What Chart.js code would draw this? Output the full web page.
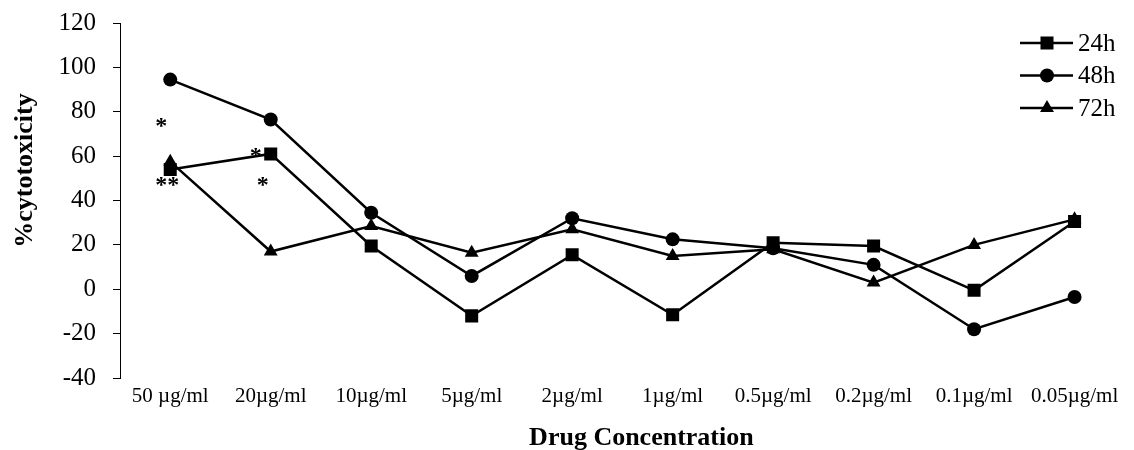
<!DOCTYPE html>
<html>
<head>
    <meta charset="UTF-8">
    <script src="https://cdn.jsdelivr.net/npm/chart.js@4.4.1/dist/chart.umd.min.js"></script>
    <title>Cytotoxicity</title>
    <style>
        html, body { margin: 0; padding: 0; background: #fff; }
        #wrap { width: 1134px; height: 450px; }
    </style>
</head>
<body>
    <div id="wrap"><canvas id="main-plot"></canvas></div>

    <script>
        // categories (x axis)
        const concentrations = ['50 µg/ml', '20µg/ml', '10µg/ml', '5µg/ml', '2µg/ml',
                                '1µg/ml', '0.5µg/ml', '0.2µg/ml', '0.1µg/ml', '0.05µg/ml'];

        // % cytotoxicity per series
        const series24h = [54, 61, 19.5, -12, 15.5, -11.5, 21, 19.5, -0.5, 30.5];
        const series48h = [94.5, 76.5, 34.5, 6, 32, 22.5, 18.5, 11, -18, -3.5];
        const series72h = [57.5, 17, 28.5, 16.5, 27, 15, 18, 3, 20, 31.5];

        const yTicks = [-40, -20, 0, 20, 40, 60, 80, 100, 120];

        const xTitle = 'Drug Concentration';
        const yTitle = '%cytotoxicity';

        // significance marks
        const starText     = ['*', '**', '*', '*'];
        const starCategory = [0, 0, 1, 1];
        const starValue    = [74.5, 48, 61, 48];

        const FONT = '"Liberation Serif", "Times New Roman", serif';

        // stars drawn next to the points
        const starsPlugin = {
            id: 'stars',
            afterDatasetsDraw(chart, args, opts) {
                const ctx = chart.ctx;
                const xs = chart.scales.x, ys = chart.scales.y;
                ctx.save();
                ctx.fillStyle = '#000';
                ctx.font = 'bold 24px ' + FONT;
                ctx.textAlign = 'left';
                ctx.textBaseline = 'alphabetic';
                starText.forEach((t, i) => {
                    const x = xs.getPixelForValue(starCategory[i]) + opts.dx[i];
                    const y = ys.getPixelForValue(starValue[i]) + 9;
                    ctx.fillText(t, x, y);
                });
                ctx.restore();
            }
        };

        // axis titles (placed a bit off-centre like the original)
        const titlesPlugin = {
            id: 'titles',
            afterDraw(chart) {
                const ctx = chart.ctx;
                const a = chart.chartArea;
                ctx.save();
                ctx.fillStyle = '#000';
                ctx.font = 'bold 26px ' + FONT;
                ctx.textAlign = 'center';
                ctx.textBaseline = 'middle';
                ctx.fillText(xTitle, (a.left + a.right) / 2 + 19, 438);
                ctx.translate(25, (a.top + a.bottom) / 2 - 30);
                ctx.rotate(-Math.PI / 2);
                ctx.fillText(yTitle, 0, 0);
                ctx.restore();
            }
        };

        // legend with line + marker, top right
        const lineLegend = {
            id: 'lineLegend',
            afterDraw(chart) {
                const ctx = chart.ctx;
                ctx.save();
                chart.data.datasets.forEach((ds, i) => {
                    const y = 43 + i * 32.5;
                    ctx.strokeStyle = '#000';
                    ctx.fillStyle = '#000';
                    ctx.lineWidth = 2.5;
                    ctx.beginPath();
                    ctx.moveTo(1020, y);
                    ctx.lineTo(1073, y);
                    ctx.stroke();
                    Chart.helpers.drawPoint(ctx, {
                        pointStyle: ds.pointStyle,
                        radius: ds.pointRadius,
                        rotation: 0,
                        borderWidth: 0
                    }, 1047, y);
                    ctx.font = '25px ' + FONT;
                    ctx.textAlign = 'left';
                    ctx.textBaseline = 'middle';
                    ctx.fillText(ds.label, 1078, y + 1);
                });
                ctx.restore();
            }
        };

        function makeSet(label, data, style, radius) {
            return {
                label: label,
                data: data,
                borderColor: '#000',
                backgroundColor: '#000',
                borderWidth: 2.5,
                tension: 0,
                pointStyle: style,
                pointRadius: radius,
                pointBorderWidth: 0,
                pointBackgroundColor: '#000',
                fill: false
            };
        }

        window.onload = () =>
        {
            const ctx = document.getElementById('main-plot').getContext('2d');

            new Chart(ctx, {
                type: 'line',
                data: {
                    labels: concentrations,
                    datasets: [
                        makeSet('24h', series24h, 'rect', 9.2),
                        makeSet('48h', series48h, 'circle', 7),
                        makeSet('72h', series72h, 'triangle', 8)
                    ]
                },
                options: {
                    responsive: true,
                    maintainAspectRatio: false,
                    animation: false,
                    layout: { padding: { top: 23, right: 8, bottom: 0, left: 0 } },
                    plugins: {
                        legend: { display: false },
                        tooltip: { enabled: false },
                        stars: { dx: [-15, -15, -21, -14] }
                    },
                    scales: {
                        x: {
                            type: 'category',
                            offset: true,
                            grid: { display: false, drawTicks: false },
                            border: { display: false },
                            ticks: {
                                color: '#000',
                                font: { family: FONT, size: 21 },
                                padding: 6,
                                maxRotation: 0,
                                autoSkip: false
                            },
                            afterFit(s) { s.height = 72; s.paddingLeft = 0; s.paddingRight = 0; }
                        },
                        y: {
                            min: -40,
                            max: 120,
                            afterBuildTicks(s) { s.ticks = yTicks.map(v => ({ value: v })); },
                            grid: { drawOnChartArea: false, drawTicks: true, tickLength: 7, color: '#000', lineWidth: 1 },
                            border: { display: true, color: '#000', width: 1 },
                            ticks: {
                                color: '#000',
                                font: { family: FONT, size: 25 },
                                padding: 17
                            },
                            afterFit(s) { s.width = 120; s.paddingTop = 0; s.paddingBottom = 0; }
                        }
                    }
                },
                plugins: [starsPlugin, titlesPlugin, lineLegend]
            });
        }
    </script>
</body>
</html>
